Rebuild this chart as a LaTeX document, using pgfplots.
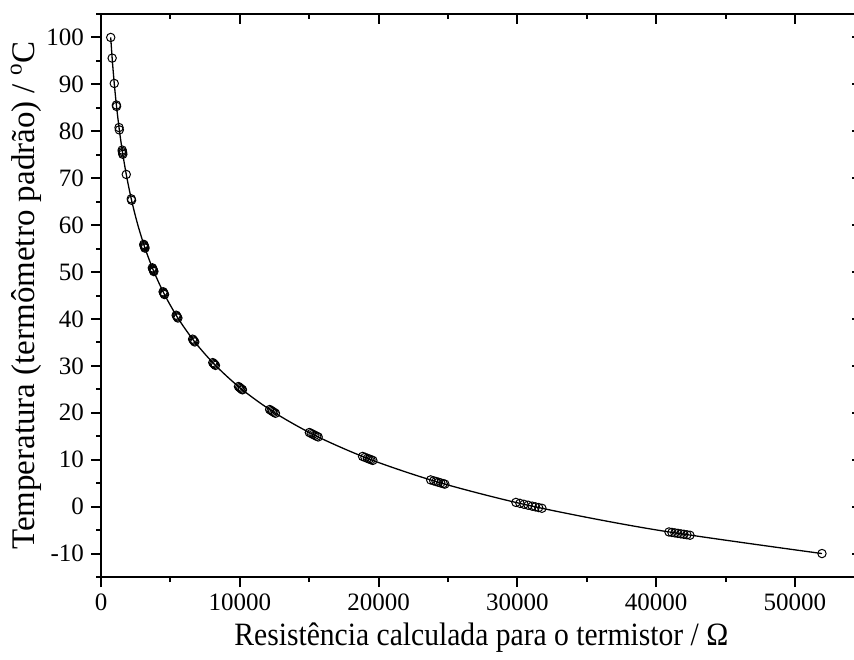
\documentclass[border=0pt]{standalone}
\usepackage{fontspec}
\setmainfont{Liberation Serif}
\usepackage{pgfplots}
\pgfplotsset{compat=1.18}
\usetikzlibrary{calc}

\pgfplotsset{
  common/.style={
    scale only axis,
    width=380.3pt, height=281.5pt,
    xmin=0, xmax=54800, ymin=-15, ymax=105,
    xtick={0,10000,...,50000},
    minor xtick={5000,15000,...,55000},
    ytick={-10,0,...,100},
    minor ytick={-15,-5,...,105},
    scaled x ticks=false,
    axis line style={line width=1.1pt},
    every tick/.style={line width=1pt, black},
    major tick length=5pt,
    minor tick length=2.5pt,
  }
}

\begin{document}
\begin{tikzpicture}
\begin{axis}[
  common,
  name=ax,
  tick align=outside,
  xtick pos=left, ytick pos=left,
  /pgf/number format/assume math mode=true,
  /pgf/number format/1000 sep={},
  tick label style={font=\fontsize{12.5}{14}\selectfont},
  xlabel style={font=\fontsize{14.8}{18}\selectfont, yscale=1.1, at={(axis description cs:0.5,-0.1083)}, anchor=center},
  ylabel style={font=\fontsize{16.5}{18}\selectfont, at={(axis description cs:-0.0986,0.5)}, anchor=center},
  xlabel={Resistência calculada para o termistor / Ω},
  ylabel={Temperatura (termômetro padrão) / \textsuperscript{o}C},
]
% fitted curve
\addplot[black, line width=0.65pt, smooth, no markers] coordinates {
(700,100) (819,95) (961,90) (1131,85) (1334,80) (1577,75) (1871,70)
(2226,65) (2657,60) (3182,55) (3824,50) (4612,45) (5583,40) (6784,35)
(8281,30) (10150,25) (12514,20) (15542,15) (19449,10) (24536,5)
(31218,0) (40081,-5) (51945,-10)
};
% measured points
\addplot[only marks, mark=o, mark size=2.1pt, mark options={line width=0.5pt, black}] coordinates {
(700,100.0)
(804,95.6)
(955,90.2)
(1109,85.6) (1120,85.3)
(1299,80.8) (1321,80.3)
(1525,76.0) (1540,75.7) (1556,75.4) (1572,75.1)
(1821,70.8)
(2180,65.6) (2203,65.3)
(3080,55.9) (3103,55.7) (3125,55.5) (3148,55.3) (3171,55.1)
(3700,50.9) (3727,50.7) (3754,50.5) (3782,50.3) (3810,50.1)
(4476,45.8) (4509,45.6) (4543,45.4) (4578,45.2)
(5415,40.8) (5456,40.6) (5498,40.4) (5541,40.2)
(6601,35.7) (6653,35.5) (6705,35.3) (6758,35.1)
(8053,30.7) (8118,30.5) (8183,30.3) (8248,30.1)
(9905,25.6) (9986,25.4) (10068,25.2) (10150,25.0) (10193,24.9)
(12152,20.7) (12255,20.5) (12358,20.3) (12462,20.1) (12568,19.9)
(15012,15.8) (15143,15.6) (15275,15.4) (15408,15.2) (15542,15.0) (15647,14.85)
(18848,10.7) (19018,10.5) (19189,10.3) (19319,10.15) (19449,10.0) (19585,9.85)
(23751,5.7) (23972,5.5) (24140,5.35) (24309,5.2) (24479,5.05) (24654,4.9) (24774,4.8)
(29894,0.9) (30183,0.7) (30475,0.5) (30770,0.3) (31068,0.1) (31296,-0.05) (31532,-0.2) (31769,-0.35)
(40921,-5.4) (41134,-5.5) (41348,-5.6) (41563,-5.7) (41779,-5.8) (41996,-5.9) (42215,-6.0) (42434,-6.1)
(51945,-10.0)
};
\end{axis}
\begin{axis}[
  common,
  at={(ax.south west)}, anchor=south west,
  tick align=inside,
  xtick pos=right, ytick pos=right,
  xticklabels={}, yticklabels={},
]
\end{axis}
\pgfresetboundingbox
\path ($(ax.south west)+(-50.5pt,-41pt)$) rectangle ($(ax.south west)+(376.5pt,288.5pt)$);
\end{tikzpicture}
\end{document}
